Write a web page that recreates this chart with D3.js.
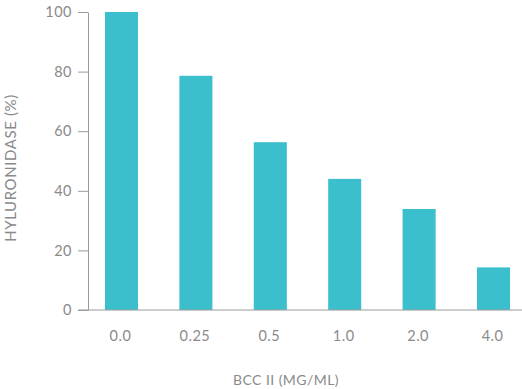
<!DOCTYPE html>
<html>
<head>
<meta charset="utf-8">
<script src="https://cdn.jsdelivr.net/npm/d3@7"></script>
<style>
  body { margin: 0; background: #fff; }
  text { font-family: Lato, "Open Sans", sans-serif; fill: #8a8a8a; }
</style>
</head>
<body>
<div id="chart"></div>
<script>
const categories = ["0.0", "0.25", "0.5", "1.0", "2.0", "4.0"];
const values = [100, 78.6, 56.3, 44.0, 33.9, 14.3];
const yTicks = [0, 20, 40, 60, 80, 100];

const width = 522;
const height = 389;

const svg = d3.select("#chart")
    .append("svg")
    .attr("width", width)
    .attr("height", height);

const y = d3.scaleLinear()
    .domain([0, 100])
    .range([310, 12]);

const x = d3.scaleBand()
    .domain(categories)
    .range([88, 527])
    .paddingInner(0.556)
    .paddingOuter(0.228);

// bars
svg.selectAll("rect")
    .data(values)
    .enter().append("rect")
    .attr("x", (d, i) => x(categories[i]))
    .attr("width", x.bandwidth())
    .attr("y", d => y(d))
    .attr("height", d => y(0) - y(d))
    .attr("fill", "#3bbfcc");

// y axis
const yAxis = svg.append("g")
    .attr("transform", "translate(88,0)")
    .call(d3.axisLeft(y).tickValues(yTicks).tickSize(10).tickPadding(6).tickSizeOuter(0));
yAxis.select(".domain").attr("stroke", "#9a9a9a");
yAxis.selectAll(".tick line").attr("stroke", "#9a9a9a");
yAxis.selectAll("text")
    .style("font-size", "14.5px")
    .style("letter-spacing", "0.5px")
    .attr("fill", "#8a8a8a");

// x axis baseline
svg.append("line")
    .attr("x1", 78).attr("x2", width)
    .attr("y1", y(0)).attr("y2", y(0))
    .attr("stroke", "#9a9a9a");

// x labels
svg.selectAll(".xlabel")
    .data(categories)
    .enter().append("text")
    .attr("class", "xlabel")
    .attr("x", d => x(d) + x.bandwidth() / 2 - 1)
    .attr("y", 341)
    .attr("text-anchor", "middle")
    .style("font-size", "14.5px")
    .style("letter-spacing", "0.5px")
    .text(d => d);

// titles
svg.append("text")
    .attr("x", 286)
    .attr("y", 385)
    .attr("text-anchor", "middle")
    .style("font-size", "14px")
    .style("letter-spacing", "0.45px")
    .text("BCC II (MG/ML)");

svg.append("text")
    .attr("transform", "translate(16,168) rotate(-90)")
    .attr("text-anchor", "middle")
    .style("font-size", "15px")
    .style("letter-spacing", "0.6px")
    .text("HYLURONIDASE (%)");
</script>
</body>
</html>
